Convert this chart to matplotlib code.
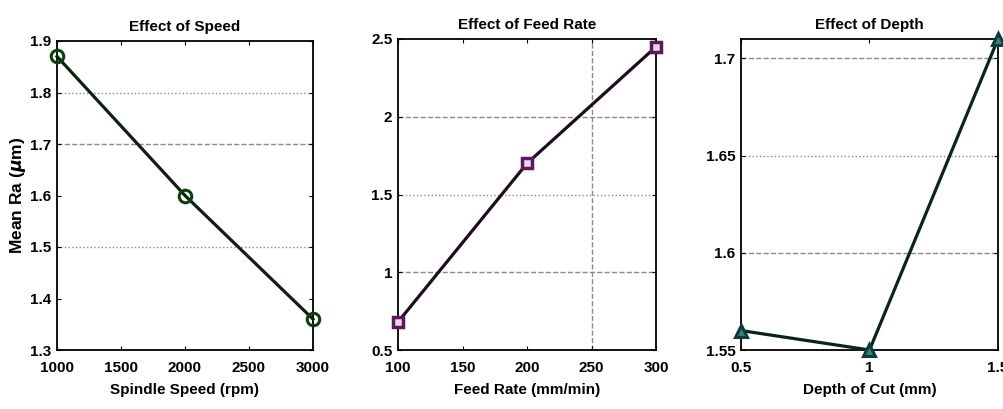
import matplotlib
matplotlib.use("Agg")
import matplotlib.pyplot as plt

plt.rcParams['font.family'] = ['Liberation Sans', 'DejaVu Sans']
plt.rcParams['font.weight'] = 'bold'
plt.rcParams['axes.titleweight'] = 'bold'
plt.rcParams['axes.labelweight'] = 'bold'
plt.rcParams['mathtext.fontset'] = 'dejavusans'

speed = [1000, 2000, 3000]
speed_ra = [1.87, 1.60, 1.36]
feed = [100, 200, 300]
feed_ra = [0.68, 1.70, 2.45]
depth = [0.5, 1.0, 1.5]
depth_ra = [1.56, 1.55, 1.71]

titles = ["Effect of Speed", "Effect of Feed Rate", "Effect of Depth"]
xlabels = ["Spindle Speed (rpm)", "Feed Rate (mm/min)", "Depth of Cut (mm)"]
ylabel = "Mean Ra ($\\mu$m)"

W, H = 1004, 409
fig = plt.figure(figsize=(W / 100, H / 100), dpi=100)
fig.patch.set_facecolor('white')

def px_axes(l, r, t, b):
    return fig.add_axes([l / W, (H - b) / H, (r - l) / W, (b - t) / H])

def hgrid(ax, ys, styles):
    for y, s in zip(ys, styles):
        ax.axhline(y, color='#8a8a8a', lw=1.0, ls=s, zorder=0)

def style(ax, title, xlabel):
    ax.set_title(title, fontsize=11, pad=7)
    ax.set_xlabel(xlabel, fontsize=11, labelpad=6)
    ax.tick_params(direction='in', length=3, width=0.8, labelsize=11,
                   top=True, right=True)
    ax.tick_params(axis='x', pad=8)
    ax.tick_params(axis='y', pad=4)
    for s in ax.spines.values():
        s.set_linewidth(1.3)
        s.set_color('black')
    for lab in ax.get_xticklabels() + ax.get_yticklabels():
        lab.set_fontweight('bold')

# Panel 1
ax1 = px_axes(57, 313, 41, 350)
ax1.plot(speed, speed_ra, color='#0f1f0f', lw=2.3, marker='o', ms=9,
         mfc='none', mec='#0b3f0b', mew=2.2, clip_on=False, zorder=3)
ax1.set_xlim(1000, 3000)
ax1.set_ylim(1.3, 1.9)
ax1.set_xticks([1000, 1500, 2000, 2500, 3000])
ax1.set_yticks([1.3, 1.4, 1.5, 1.6, 1.7, 1.8, 1.9])
ax1.set_yticklabels(['1.3', '1.4', '1.5', '1.6', '1.7', '1.8', '1.9'])
hgrid(ax1, [1.8, 1.7, 1.5], [':', '--', ':'])
ax1.set_ylabel(ylabel, fontsize=12.5)
ax1.yaxis.set_label_coords(-0.115, 0.5)
style(ax1, titles[0], xlabels[0])

# Panel 2
ax2 = px_axes(398, 656, 39, 350)
ax2.plot(feed, feed_ra, color='#1f0a1f', lw=2.3, marker='s', ms=7,
         mfc='#e8d8e8', mec='#5a1a5a', mew=2.5, clip_on=False, zorder=3)
ax2.set_xlim(100, 300)
ax2.set_ylim(0.5, 2.5)
ax2.set_xticks([100, 150, 200, 250, 300])
ax2.set_yticks([0.5, 1, 1.5, 2, 2.5])
ax2.set_yticklabels(['0.5', '1', '1.5', '2', '2.5'])
hgrid(ax2, [2.0, 1.5, 1.0], ['--', ':', '--'])
ax2.axvline(250, color='#8a8a8a', lw=1.0, ls='--', zorder=0)
style(ax2, titles[1], xlabels[1])

# Panel 3
ax3 = px_axes(741, 998, 39, 350)
ax3.plot(depth, depth_ra, color='#0a2222', lw=2.3, marker='^', ms=9,
         mfc='#3a8080', mec='#0f3a3a', mew=2.2, clip_on=False, zorder=3)
ax3.set_xlim(0.5, 1.5)
ax3.set_ylim(1.55, 1.71)
ax3.set_xticks([0.5, 1.0, 1.5])
ax3.set_xticklabels(['0.5', '1', '1.5'])
ax3.set_yticks([1.55, 1.6, 1.65, 1.7])
ax3.set_yticklabels(['1.55', '1.6', '1.65', '1.7'])
hgrid(ax3, [1.7, 1.65, 1.6], ['--', ':', '--'])
style(ax3, titles[2], xlabels[2])

fig.savefig("out.png", dpi=100, facecolor='white')
